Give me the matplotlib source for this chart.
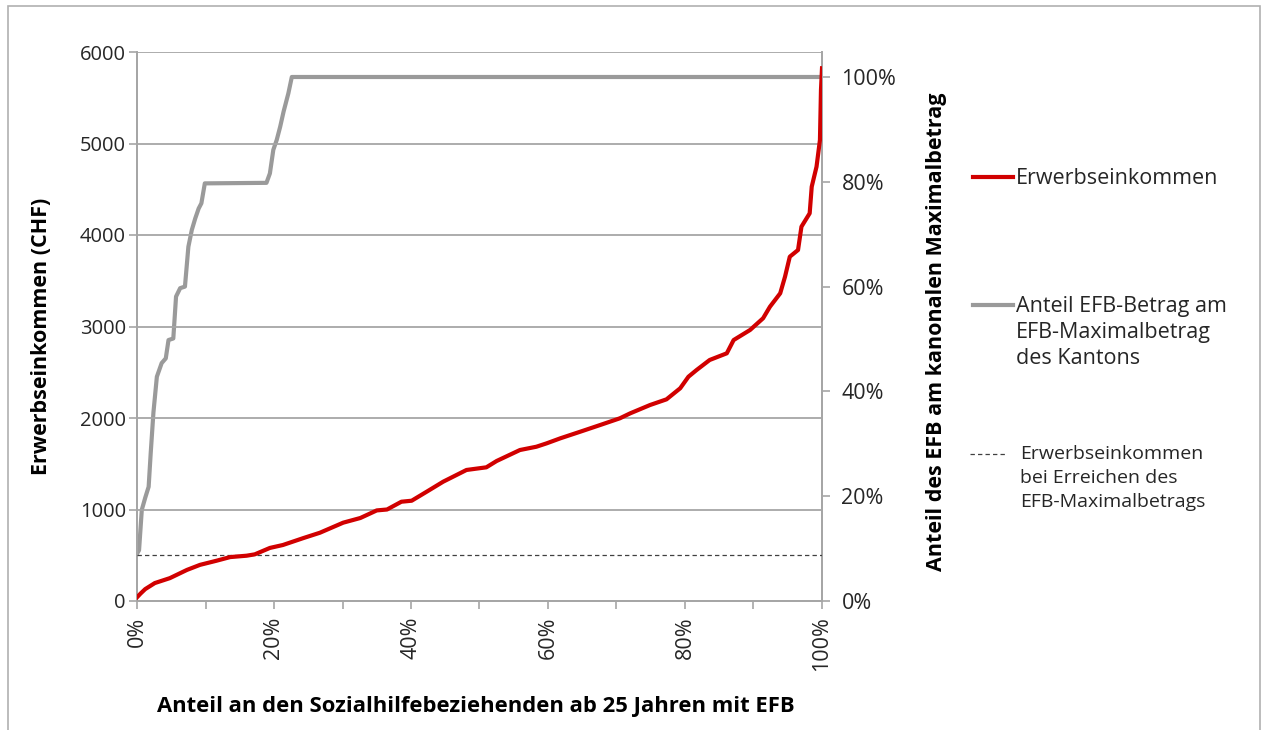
import matplotlib
matplotlib.use("Agg")
import matplotlib.pyplot as plt
from matplotlib.lines import Line2D
from matplotlib.patches import Rectangle
from matplotlib.ticker import FuncFormatter, MultipleLocator

plt.rcParams['font.family'] = ['Open Sans', 'DejaVu Sans']

# --- data -------------------------------------------------------------
share_red = [0, 0.5, 1.2, 2.6, 4.8, 7.3, 9.2, 11.6, 13.6, 16, 17.2, 19.4, 21.3, 24.3,
             26.7, 30.1, 32.6, 35, 36.5, 38.6, 40.1, 42.3, 44.7, 48.1, 51, 52.5, 55.9,
             58.3, 59.8, 61.8, 64.7, 67.6, 70.5, 72, 74.9, 77.3, 79.3, 80.5, 81.7, 83.6,
             86.1, 87.1, 89.5, 91.4, 92.4, 93.9, 94.6, 95.3, 96.5, 97, 98.2, 98.5, 99.2,
             99.7, 99.85, 100]
income = [40, 80, 130, 196, 250, 340, 395, 440, 480, 495, 510, 580, 612, 688, 746, 856,
          907, 990, 1000, 1085, 1096, 1195, 1304, 1432, 1461, 1530, 1650, 1686, 1723,
          1778, 1850, 1923, 1997, 2051, 2142, 2204, 2325, 2451, 2525, 2634, 2707, 2852,
          2962, 3090, 3216, 3363, 3544, 3763, 3836, 4091, 4237, 4528, 4746, 5038, 5585,
          5822]

share_gray = [0, 0.3, 0.7, 1.2, 1.7, 2.0, 2.4, 2.9, 3.6, 4.2, 4.6, 5.3, 5.7, 6.3, 7.0,
              7.5, 8.0, 8.5, 9.0, 9.4, 9.9, 18.9, 19.4, 19.9, 20.4, 20.9, 21.4, 22.1,
              22.6, 100]
efb_ratio = [0.09, 0.097, 0.174, 0.197, 0.218, 0.282, 0.36, 0.428, 0.454, 0.463, 0.498,
             0.501, 0.581, 0.597, 0.60, 0.676, 0.708, 0.730, 0.749, 0.759, 0.797, 0.798,
             0.816, 0.861, 0.880, 0.905, 0.934, 0.969, 1.0, 1.0]

income_at_max = 500

x_ticks = [0, 20, 40, 60, 80, 100]
left_ticks = [0, 1000, 2000, 3000, 4000, 5000, 6000]
right_ticks = [0, 0.2, 0.4, 0.6, 0.8, 1.0]

label_red = "Erwerbseinkommen"
label_gray = "Anteil EFB-Betrag am\nEFB-Maximalbetrag\ndes Kantons"
label_dash = "Erwerbseinkommen\nbei Erreichen des\nEFB-Maximalbetrags"

# --- figure -----------------------------------------------------------
W, H = 1261, 730
fig = plt.figure(figsize=(W / 100, H / 100), dpi=100)
ax = fig.add_axes([137 / W, 1 - 601 / H, (822 - 137) / W, (601 - 52) / H])
ax2 = ax.twinx()
ax.set_zorder(ax2.get_zorder() + 1)
ax.patch.set_visible(False)

GRID = '#a6a6a6'
RED = '#d10000'
GRAY = '#9a9a9a'
TXT = '#262626'

ax.plot(share_red, income, color=RED, lw=3.0, solid_joinstyle='round', zorder=5)
ax.axhline(income_at_max, color='#404040', lw=0.9, dashes=(3.5, 2.5), zorder=4)
ax2.plot(share_gray, efb_ratio, color=GRAY, lw=3.0, solid_joinstyle='round', zorder=3)

ax.set_xlim(0, 100)
ax.set_ylim(0, 6000)
ax2.set_ylim(0, 1.0477)

ax.set_yticks(left_ticks)
ax.yaxis.grid(True, color=GRID, lw=1.3)
ax.set_axisbelow(True)
ax.set_xticks(x_ticks)
ax.xaxis.set_minor_locator(MultipleLocator(10))
ax.xaxis.set_major_formatter(FuncFormatter(lambda v, p: f"{int(v)}%"))
ax.tick_params(axis='x', which='both', direction='out', length=6, color=GRID, width=1.2)
ax.tick_params(axis='x', labelrotation=90, labelsize=15.5, labelcolor=TXT, pad=5)
ax.tick_params(axis='y', direction='out', length=6, color=GRID, width=1.2,
               labelsize=14.5, labelcolor=TXT, pad=2)

ax2.set_yticks(right_ticks)
ax2.yaxis.set_major_formatter(FuncFormatter(lambda v, p: f"{int(round(v * 100))}%"))
ax2.tick_params(axis='y', direction='out', length=6, color=GRID, width=1.2,
                labelsize=15.5, labelcolor=TXT, pad=8)

for a in (ax, ax2):
    for s in a.spines.values():
        s.set_color(GRID)
        s.set_linewidth(1.3)
    a.spines['top'].set_visible(False)

ax.set_ylabel("Erwerbseinkommen (CHF)", fontsize=15.5, fontweight='bold', color='black')
ax.yaxis.set_label_coords(-0.124, 0.482)
ax2.set_ylabel("Anteil des EFB am kanonalen Maximalbetrag", fontsize=15.5,
               fontweight='bold', color='black')
ax2.yaxis.set_label_coords(1.152, 0.49)
ax.set_xlabel("Anteil an den Sozialhilfebeziehenden ab 25 Jahren mit EFB", fontsize=15.8,
              fontweight='bold', color='black')
ax.xaxis.set_label_coords(0.495, -0.173)

# --- legend (manual, figure coords) ----------------------------------
def fx(px):
    return px / W

def fy(py):
    return 1 - py / H

fig.add_artist(Line2D([fx(973), fx(1013)], [fy(177), fy(177)], color=RED, lw=3.0))
fig.text(fx(1016), fy(178), label_red, fontsize=15.5, color=TXT, va='center', ha='left')
fig.add_artist(Line2D([fx(973), fx(1013)], [fy(305), fy(305)], color=GRAY, lw=3.0))
fig.text(fx(1016), fy(305) + 0.0125, label_gray, fontsize=15.5, color=TXT, va='top',
         ha='left', linespacing=1.32)
fig.add_artist(Line2D([fx(970), fx(1006)], [fy(454), fy(454)], color='#404040', lw=0.9,
                      dashes=(3.5, 2.5)))
fig.text(fx(1020), fy(454) + 0.0125, label_dash, fontsize=14, color=TXT, va='top',
         ha='left', linespacing=1.42)

# outer frame
fig.add_artist(Rectangle((fx(8), -0.05), fx(1260) - fx(8), fy(6) + 0.05,
                         fill=False, edgecolor='#b0b0b0', lw=1.2,
                         transform=fig.transFigure))

fig.savefig("out.png", dpi=100)
